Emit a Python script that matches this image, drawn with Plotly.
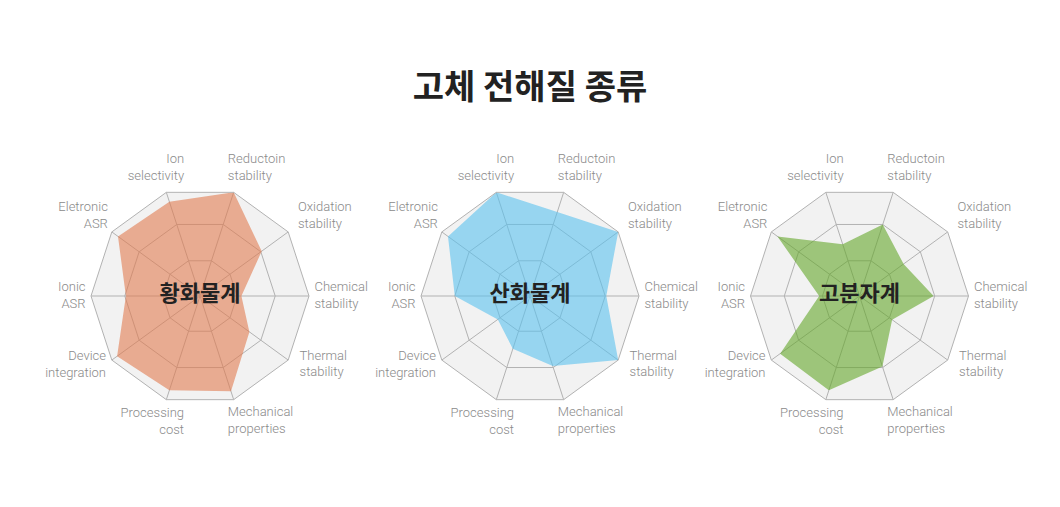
import plotly.graph_objects as go

# ---------------- data ----------------
categories = ["Ion selectivity", "Reductoin stability", "Oxidation stability",
              "Chemical stability", "Thermal stability", "Mechanical properties",
              "Processing cost", "Device integration", "Ionic ASR", "Eletronic ASR"]
label_texts = ["Ion<br>selectivity", "Reductoin<br>stability", "Oxidation<br>stability",
               "Chemical<br>stability", "Thermal<br>stability", "Mechanical<br>properties",
               "Processing<br>cost", "Device<br>integration", "Ionic<br>ASR", "Eletronic<br>ASR"]

sulfide = [0.91, 1.00, 0.70, 0.38, 0.56, 0.92, 0.91, 0.94, 0.68, 0.93]
oxide = [1.00, 0.81, 1.00, 0.70, 1.00, 0.675, 0.51, 0.365, 0.69, 0.93]
polymer = [0.50, 0.69, 0.50, 0.68, 0.37, 0.68, 0.91, 0.90, 0.37, 0.93]

series_names = ["황화물계", "산화물계", "고분자계"]
series_values = [sulfide, oxide, polymer]
title_text = "고체 전해질 종류"

# ---------------- styling / layout ----------------
W, H = 1060, 507
OFF = 8  # page body margin
fills = ["rgba(225,124,80,0.6)", "rgba(90,194,239,0.6)", "rgba(100,167,42,0.6)"]
centers_x = [200 - OFF, 530 - OFF, 859.5 - OFF]
center_y = 296 - OFF
R = 109
LR = 1.45  # extent of label overlay subplot (in units of R)
ring_vals = [0.34, 0.69, 1.0]
# label anchor positions (radius fraction, angle deg ccw from east) and side
label_r = [1.18, 1.20, 1.16, 1.05, 1.11, 1.18, 1.17, 1.07, 1.05, 1.12]
label_th = [97.1, 77.7, 39.2, 0, -34.6, -77.5, -97.2, -143.7, 180, 139]
label_pos = ["middle left", "middle right", "middle right", "middle right", "middle right",
             "middle right", "middle left", "middle left", "middle left", "middle left"]

label_font = dict(family="Roboto", size=13, color="#8a8a8a", weight=300)
grid_col = "#b2b2b2"

fig = go.Figure()
layout = dict(width=W, height=H, margin=dict(l=0, r=0, t=0, b=0),
              paper_bgcolor="white", plot_bgcolor="white", showlegend=False,
              title=dict(text=title_text, x=(530 - OFF) / W, xanchor="center",
                         y=1 - (87 - OFF) / H, yanchor="middle",
                         font=dict(family="Noto Sans CJK KR", size=34, color="#222222", weight="bold")))

for i, (name, vals) in enumerate(zip(series_names, series_values)):
    dom = dict(x=[(centers_x[i] - R) / W, (centers_x[i] + R) / W],
               y=[(H - center_y - R) / H, (H - center_y + R) / H])
    dom2 = dict(x=[(centers_x[i] - R * LR) / W, (centers_x[i] + R * LR) / W],
                y=[(H - center_y - R * LR) / H, (H - center_y + R * LR) / H])
    pk = "polar" if i == 0 else f"polar{2 * i + 1}"
    ok = f"polar{2 * i + 2}"
    fig.add_trace(go.Scatterpolar(r=vals, theta=categories, fill="toself", fillcolor=fills[i],
                                  mode="lines", line=dict(width=0, color=fills[i]),
                                  subplot=pk, hoverinfo="skip"))
    layout[pk] = dict(domain=dom, bgcolor="#f2f2f2", gridshape="linear",
                      radialaxis=dict(range=[0, 1], tickvals=ring_vals, showticklabels=False,
                                      ticks="", showline=False, gridcolor=grid_col, gridwidth=1),
                      angularaxis=dict(type="category", categoryarray=categories, rotation=108,
                                       direction="clockwise", showticklabels=False, ticks="",
                                       showline=True, linecolor=grid_col, linewidth=1,
                                       gridcolor=grid_col, gridwidth=1))
    # overlay subplot for labels
    fig.add_trace(go.Scatterpolar(r=label_r, theta=label_th, mode="text", text=label_texts,
                                  textposition=label_pos, textfont=label_font,
                                  cliponaxis=False, subplot=ok, hoverinfo="skip"))
    fig.add_trace(go.Scatterpolar(r=[0], theta=[0], mode="text", text=[name],
                                  textposition="middle center",
                                  textfont=dict(family="Noto Sans CJK KR", size=22, color="#222222",
                                                weight="bold"),
                                  cliponaxis=False, subplot=ok, hoverinfo="skip"))
    layout[ok] = dict(domain=dom2, bgcolor="rgba(0,0,0,0)",
                      radialaxis=dict(range=[0, LR], visible=False),
                      angularaxis=dict(visible=False, rotation=0, direction="counterclockwise"))

fig.update_layout(**layout)
fig.write_html("out.html")
